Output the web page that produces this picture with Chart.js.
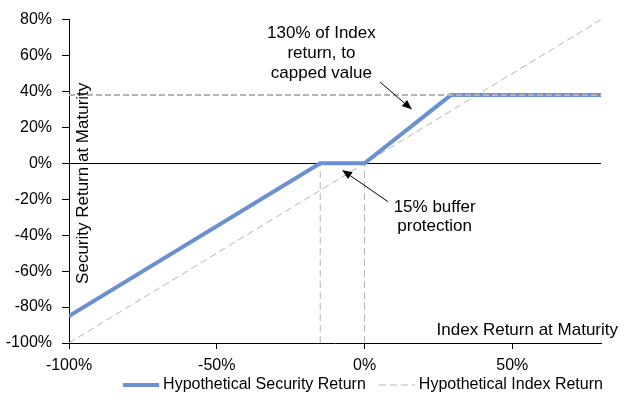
<!DOCTYPE html>
<html>
<head>
<meta charset="utf-8">
<script src="https://cdn.jsdelivr.net/npm/chart.js@4.4.1/dist/chart.umd.min.js"></script>
<style>
  html, body { margin: 0; padding: 0; background: #fff; }
  #wrap { width: 627px; height: 402px; }
</style>
</head>
<body>
<div id="wrap"><canvas id="grafico"></canvas></div>
<script>
// datos (en %)
const indiceX = [-100, 80];
const indiceY = [-100, 80];
const seguridadX = [-100, -15, 0, 29.2, 80];
const seguridadY = [-85, 0, 0, 38, 38];
const topeX = [-100, 80];
const topeY = [38, 38];
const buffer1X = [-15, -15];
const buffer1Y = [-100, 0];
const buffer2X = [0, 0];
const buffer2Y = [-100, 0];
const ticksY = [-100, -80, -60, -40, -20, 0, 20, 40, 60, 80];
const ticksX = [-100, -50, 0, 50];

const fuente = 'Liberation Sans, Arial, sans-serif';
const azul = '#6a8fd2';
const gris = '#b4b4b4';

function puntos(xs, ys) {
  return xs.map((x, i) => ({ x: x, y: ys[i] }));
}

function flecha(ctx, x1, y1, x2, y2) {
  const ang = Math.atan2(y2 - y1, x2 - x1);
  const largo = 10, ancho = 4;
  ctx.beginPath();
  ctx.moveTo(x1, y1);
  ctx.lineTo(x2 - Math.cos(ang) * largo, y2 - Math.sin(ang) * largo);
  ctx.stroke();
  ctx.beginPath();
  ctx.moveTo(x2, y2);
  ctx.lineTo(x2 - Math.cos(ang) * largo - Math.sin(ang) * ancho, y2 - Math.sin(ang) * largo + Math.cos(ang) * ancho);
  ctx.lineTo(x2 - Math.cos(ang) * largo + Math.sin(ang) * ancho, y2 - Math.sin(ang) * largo - Math.cos(ang) * ancho);
  ctx.closePath();
  ctx.fill();
}

// textos, flechas, titulos de ejes y leyenda
const extras = {
  id: 'extras',
  afterDraw(chart) {
    const ctx = chart.ctx;
    const a = chart.chartArea;
    const sx = chart.scales.x, sy = chart.scales.y;
    ctx.save();
    ctx.fillStyle = '#000';
    ctx.strokeStyle = '#000';
    ctx.lineWidth = 1;
    ctx.font = '17px ' + fuente;
    ctx.textAlign = 'center';
    ctx.textBaseline = 'middle';

    const nota1 = ['130% of Index', 'return, to', 'capped value'];
    const y1 = [72.3, 61.3, 50.3];
    nota1.forEach((t, i) => ctx.fillText(t, sx.getPixelForValue(-14.6), sy.getPixelForValue(y1[i])));
    const nota2 = ['15% buffer', 'protection'];
    const y2 = [-24.6, -35.0];
    nota2.forEach((t, i) => ctx.fillText(t, sx.getPixelForValue(23.7), sy.getPixelForValue(y2[i])));

    flecha(ctx, sx.getPixelForValue(5.2), sy.getPixelForValue(45.3), sx.getPixelForValue(16.05), sy.getPixelForValue(29.9));
    flecha(ctx, sx.getPixelForValue(7.9), sy.getPixelForValue(-21.3), sx.getPixelForValue(-7.6), sy.getPixelForValue(-3.7));

    // titulo eje x
    ctx.textAlign = 'right';
    ctx.fillText('Index Return at Maturity', a.right + 17, a.bottom - 13);

    // titulo eje y
    ctx.save();
    ctx.translate(a.left + 14, (a.top + a.bottom) / 2 + 2);
    ctx.rotate(-Math.PI / 2);
    ctx.textAlign = 'center';
    ctx.fillText('Security Return at Maturity', 0, 0);
    ctx.restore();

    // leyenda
    ctx.font = '16px ' + fuente;
    const items = chart.data.datasets.filter(d => d.enLeyenda);
    const muestra = 36, sep = 4, entre = 13;
    let total = 0;
    items.forEach((d, i) => {
      total += muestra + sep + ctx.measureText(d.label).width + (i < items.length - 1 ? entre : 0);
    });
    let x = 363 - total / 2;
    const yl = 385;
    ctx.textAlign = 'left';
    items.forEach(d => {
      ctx.save();
      ctx.strokeStyle = d.borderColor;
      ctx.lineWidth = d.borderWidth;
      ctx.setLineDash(d.borderDash || []);
      ctx.beginPath();
      ctx.moveTo(x, yl);
      ctx.lineTo(x + muestra, yl);
      ctx.stroke();
      ctx.restore();
      x += muestra + sep;
      ctx.fillText(d.label, x, yl);
      x += ctx.measureText(d.label).width + entre;
    });
    ctx.restore();
  }
};

new Chart(document.getElementById('grafico'), {
  type: 'line',
  data: {
    datasets: [
      { label: 'Tope', data: puntos(topeX, topeY), borderColor: gris, borderWidth: 2, borderDash: [6, 3], order: 0 },
      { label: 'Hypothetical Security Return', data: puntos(seguridadX, seguridadY), borderColor: azul, borderWidth: 4, order: 1, enLeyenda: true },
      { label: 'Hypothetical Index Return', data: puntos(indiceX, indiceY), borderColor: gris, borderWidth: 1, borderDash: [7, 4], order: 2, enLeyenda: true },
      { label: 'b1', data: puntos(buffer1X, buffer1Y), borderColor: gris, borderWidth: 1, borderDash: [7, 4], order: 3 },
      { label: 'b2', data: puntos(buffer2X, buffer2Y), borderColor: gris, borderWidth: 1, borderDash: [7, 4], order: 3 }
    ]
  },
  options: {
    responsive: true,
    maintainAspectRatio: false,
    animation: false,
    devicePixelRatio: 1,
    elements: { point: { radius: 0 }, line: { tension: 0, borderCapStyle: 'butt' } },
    layout: { padding: { top: 16, right: 26, left: 0, bottom: 24 } },
    plugins: { legend: { display: false }, tooltip: { enabled: false } },
    scales: {
      x: {
        type: 'linear',
        min: -100,
        max: 80,
        afterFit: s => { s.height = 35; },
        afterBuildTicks: s => { s.ticks = ticksX.map(v => ({ value: v })); },
        border: { color: '#000', width: 1 },
        grid: { drawOnChartArea: false, tickLength: 6, tickColor: '#000' },
        ticks: { color: '#000', padding: 7, font: { family: fuente, size: 16 }, callback: v => v + '%' }
      },
      y: {
        type: 'linear',
        min: -100,
        max: 80,
        afterFit: s => { s.width = 69; },
        afterBuildTicks: s => { s.ticks = ticksY.map(v => ({ value: v })); },
        border: { color: '#000', width: 1 },
        grid: {
          tickLength: 7,
          tickColor: '#000',
          color: c => (c.tick && c.tick.value === 0 ? '#000' : 'rgba(0,0,0,0)')
        },
        ticks: { color: '#000', padding: 10, font: { family: fuente, size: 16 }, callback: v => v + '%' }
      }
    }
  },
  plugins: [extras]
});
</script>
</body>
</html>
